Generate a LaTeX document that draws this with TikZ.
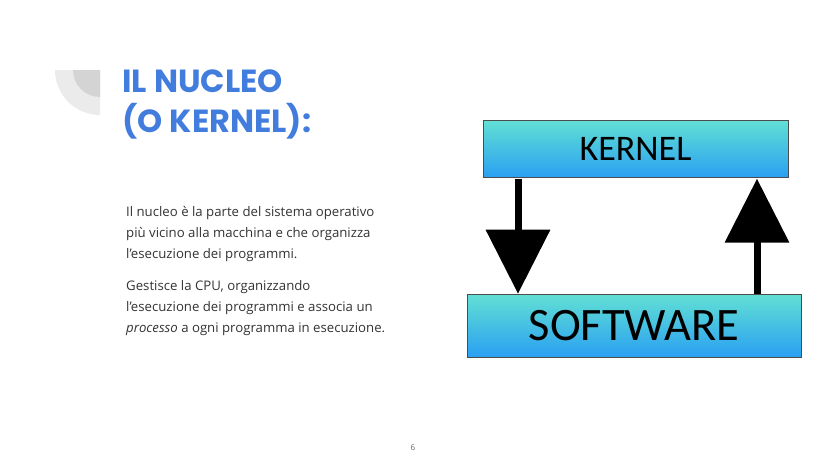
\documentclass[tikz,border=0pt]{standalone}
\usepackage{fontspec}
\setmainfont{Open Sans}
\newfontfamily\titlefont{Poppins}
\newfontfamily\boxfont{Carlito}
\usetikzlibrary{arrows.meta}
\definecolor{titleblue}{RGB}{66,125,222}
\definecolor{boxtop}{RGB}{98,224,212}
\definecolor{boxbot}{RGB}{42,160,242}
\begin{document}
\begin{tikzpicture}[x=1pt,y=-1pt,
  layer/.style={draw=black!70, line width=0.6pt, top color=boxtop, bottom color=boxbot, inner sep=0pt},
  flow/.style={line width=7pt, -{Triangle[width=63pt,length=64pt]}}]
\useasboundingbox (0,0) rectangle (828,466);
% corner decoration
\fill[black!8] (100,70) -- (55,70) arc[start angle=180, end angle=90, radius=45] -- cycle;
\fill[black!17] (100,70) -- (73,70) arc[start angle=180, end angle=90, radius=27] -- cycle;
% title
\node[anchor=base west, font=\titlefont\bfseries\fontsize{32}{36}\selectfont, text=titleblue] (title1) at (119,92) {IL NUCLEO};
\node[anchor=base west, font=\titlefont\bfseries\fontsize{32}{36}\selectfont, text=titleblue] (title2) at (119,132) {(O KERNEL):};
% text
\node[anchor=north west, align=left, font=\fontsize{13.2}{21}\selectfont, text=black!80, inner sep=0pt] (par1) at (126,206)
  {Il nucleo è la parte del sistema operativo\\più vicino alla macchina e che organizza\\l’esecuzione dei programmi.};
\node[anchor=north west, align=left, font=\fontsize{13.2}{21}\selectfont, text=black!80, inner sep=0pt] (par2) at (126,280)
  {Gestisce la CPU, organizzando\\l’esecuzione dei programmi e associa un\\\textit{processo} a ogni programma in esecuzione.};
\node[font=\fontsize{8}{10}\selectfont, text=black!60] (page) at (413,448) {6};
% boxes
\node[layer, minimum width=305pt, minimum height=57pt, font=\boxfont\fontsize{36}{38}\selectfont] (kernel) at (635.5,148.5) {KERNEL};
\node[layer, minimum width=334pt, minimum height=63pt, font=\boxfont\fontsize{46.5}{48}\selectfont] (software) at (634,325.5) {SOFTWARE};
% arrows
\draw[flow] (kernel.south -| 518,0) ++(0,2) -- (software.north -| 518,0);
\draw[flow] (software.north -| 757,0) -- ++(0,-115);
\end{tikzpicture}
\end{document}
